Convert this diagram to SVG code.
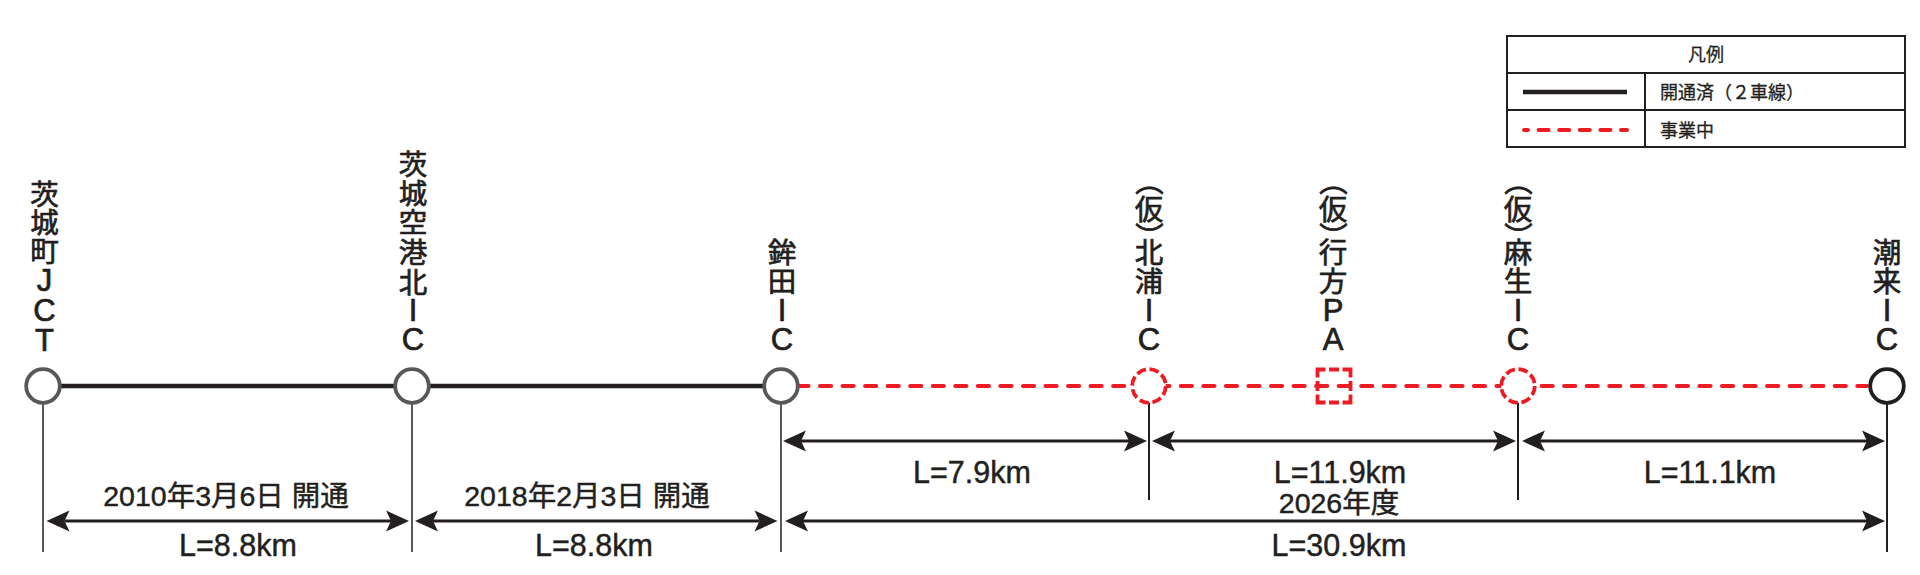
<svg xmlns="http://www.w3.org/2000/svg" width="1920" height="575" viewBox="0 0 1920 575">
<style>
text{font-family:"Liberation Sans","Noto Sans CJK JP",sans-serif;fill:#231f20;stroke:#231f20;stroke-width:.45}
.v{font-size:28.5px;text-anchor:middle;stroke-width:.7}
.l{font-size:31px}
.d{font-size:28.5px;text-anchor:middle}
.km{font-size:30.5px;text-anchor:middle}
.lg{font-size:18px;stroke-width:.3}
.tick{stroke:#231f20;stroke-width:2;fill:none}
.tickg{stroke:#595757;stroke-width:2;fill:none}
.dim{stroke:#231f20;stroke-width:3;fill:none;marker-start:url(#ah);marker-end:url(#ah)}
.open{stroke:#231f20;stroke-width:4.5;fill:none}
.plan{stroke:#ed1c24;stroke-width:4.2;fill:none;stroke-linecap:round;stroke-dasharray:11 11.55}
.n{fill:#fff;stroke-width:3.8}
.g{stroke:#595757}
.k{stroke:#231f20}
.r{stroke:#ed1c24;stroke-dasharray:9.5 3.7}
.cell{fill:none;stroke:#231f20;stroke-width:2}
</style>
<defs>
<marker id="ah" viewBox="-6 -11 25 22" refX="0" refY="0" markerWidth="25" markerHeight="22" markerUnits="userSpaceOnUse" orient="auto-start-reverse">
<path d="M18,0 L-5,-10.5 L0,0 L-5,10.5 Z" fill="#231f20"/>
</marker>
</defs>
<g id="connectors">
<path class="tickg" d="M43 402V552M412 402V552M781 402V552"/>
<path class="tick" d="M1149 402V500M1518 402V500M1887 402V552"/>
<path class="open" d="M43 386H781"/>
<path class="plan" d="M797.5 386H1867"/>
<path class="dim" d="M64.5 521H391"/>
<path class="dim" d="M433 521H759.5"/>
<path class="dim" d="M803 521H1867"/>
<path class="dim" d="M801 441H1129"/>
<path class="dim" d="M1170 441H1498"/>
<path class="dim" d="M1540 441H1867"/>
</g>
<g id="node-ibarakimachi-jct">
<circle class="n g" cx="43" cy="386" r="16.8"/>
<text class="v" x="44.5 44.5 44.5 44.5 44.5 44.5" y="205 233 262 291 320.5 350.5">茨城町<tspan class="l">JCT</tspan></text>
</g>
<g id="node-ibaraki-airport-kita-ic">
<circle class="n g" cx="412" cy="386" r="16.8"/>
<text class="v" x="413 413 413 413 413 413 413" y="175 204 233 263 292.5 321 350">茨城空港北<tspan class="l">IC</tspan></text>
</g>
<g id="node-hokota-ic">
<circle class="n g" cx="781" cy="386" r="16.8"/>
<text class="v" x="782 782 782 782" y="263 292 321 350">鉾田<tspan class="l">IC</tspan></text>
</g>
<g id="node-kitaura-ic">
<circle class="n r" cx="1149" cy="386" r="16.8"/>
<text class="v" x="1152.4 1149 1152.4 1149 1149 1149 1149" y="167 220 222 263 292 321 350" rotate="90 0 90 0 0 0 0">（仮）北浦<tspan class="l">IC</tspan></text>
</g>
<g id="node-namegata-pa">
<rect x="1317.5" y="369.5" width="33" height="33" fill="none" stroke="#ed1c24" stroke-width="3.8" stroke-dasharray="16 3.5 10 3.5" stroke-dashoffset="8"/>
<text class="v" x="1336.4 1333 1336.4 1333 1333 1333 1333" y="167 220 222 263 292 321 350" rotate="90 0 90 0 0 0 0">（仮）行方<tspan class="l">PA</tspan></text>
</g>
<g id="node-aso-ic">
<circle class="n r" cx="1518" cy="386" r="16.8"/>
<text class="v" x="1521.4 1518 1521.4 1518 1518 1518 1518" y="167 220 222 263 292 321 350" rotate="90 0 90 0 0 0 0">（仮）麻生<tspan class="l">IC</tspan></text>
</g>
<g id="node-itako-ic">
<circle class="n k" cx="1887" cy="386" r="16.8"/>
<text class="v" x="1887 1887 1887 1887" y="263 292 321 350">潮来<tspan class="l">IC</tspan></text>
</g>
<g id="labels">
<text class="d" x="226" y="505.5">2010年3月6日 開通</text>
<text class="km" x="238" y="556">L=8.8km</text>
<text class="d" x="587" y="505.5">2018年2月3日 開通</text>
<text class="km" x="594" y="556">L=8.8km</text>
<text class="km" x="972" y="483">L=7.9km</text>
<text class="km" x="1340" y="483">L=11.9km</text>
<text class="km" x="1710" y="483">L=11.1km</text>
<text class="d" x="1339" y="513">2026年度</text>
<text class="km" x="1339" y="556">L=30.9km</text>
</g>
<g id="legend">
<rect class="cell" x="1507" y="36" width="398" height="111"/>
<path class="cell" d="M1507 73H1905M1507 110H1905M1645 73V147"/>
<text class="lg" x="1706" y="61" text-anchor="middle">凡例</text>
<path class="open" d="M1523 92H1627"/>
<text class="lg" x="1660" y="99">開通済（２車線）</text>
<path stroke="#ed1c24" stroke-width="4" fill="none" stroke-linecap="round" stroke-dasharray="10 10.6" stroke-dashoffset="6" d="M1524 130H1627"/>
<text class="lg" x="1660" y="136.5">事業中</text>
</g>
</svg>
